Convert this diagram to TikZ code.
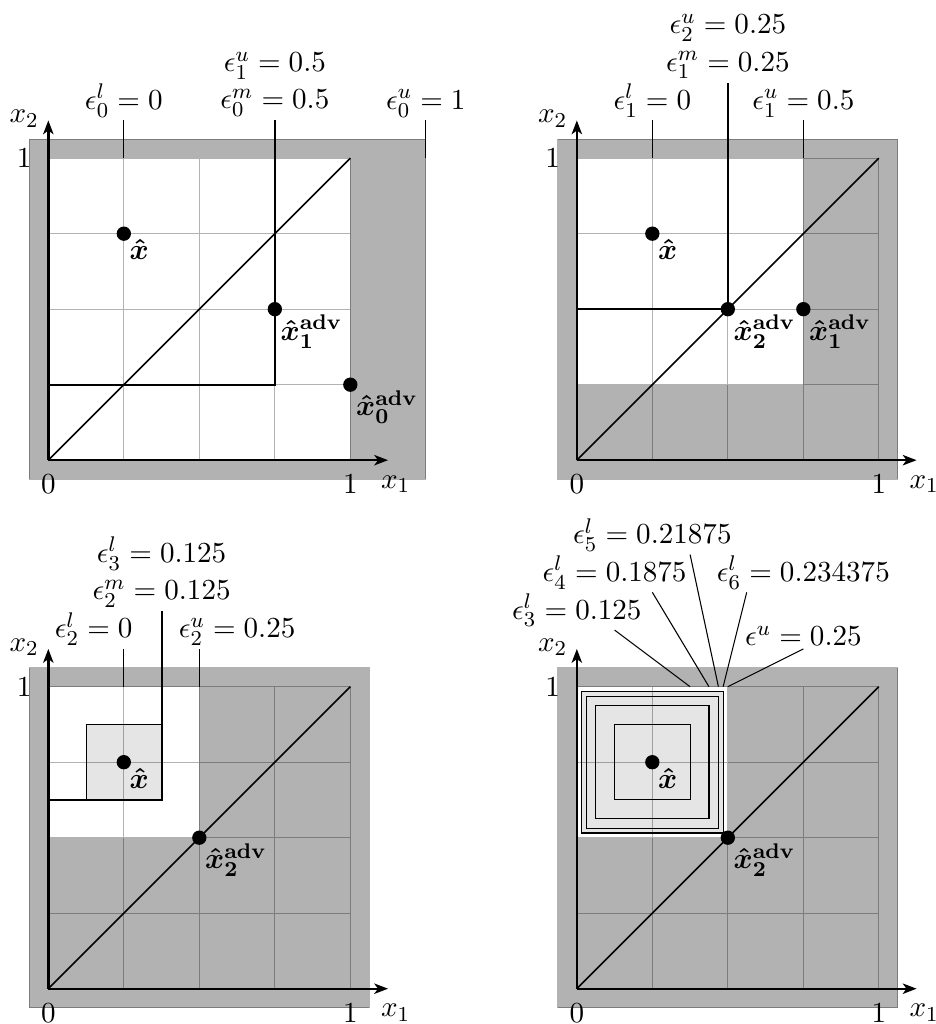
\documentclass[11pt,tikz,border=0pt]{standalone}
\usepackage{amsmath}
\usepackage{bm}
\usetikzlibrary{arrows.meta}
\begin{document}
\begin{tikzpicture}[x=4cm,y=4cm,>={Stealth[length=5.2pt,width=3.9pt,inset=1.4pt]},
  region/.style={fill=black!30},
  gridline/.style={draw=black,draw opacity=0.3,thin},
  ball/.style={fill=black!10,draw=black,thin},
  axis/.style={line width=0.9pt,->},
  eps/.style={above,inner sep=1pt},
  pt/.style={below right,inner sep=2pt}]
\useasboundingbox (-0.64cm,-0.4675cm) rectangle (11.757cm,13.095cm);

\begin{scope}[shift={(0,1.75)}]
\fill[region] (-0.0625,-0.0625) rectangle (1.25,1.0625);
\fill[white] (0,0) rectangle (1,1);
\draw[gridline] (0,0) grid[step=0.25] (1.001,1.001);
\draw[gridline] (-0.0625,-0.0625) rectangle (1.25,1.0625);
\draw[thin] (0.25,1) -- (0.25,1.125) node[eps] (lA) {$\epsilon^l_0=0$};
\draw[thin] (1.25,1) -- (1.25,1.125) node[eps] (uA) {$\epsilon^u_0=1$};
\draw[thick] (0,0.25) -- (0.75,0.25) -- (0.75,1.125) node[eps] (mA) {$\epsilon^m_0=0.5$};
\node[eps] (uA1) at (0.75,1.25) {$\epsilon^u_1=0.5$};
\draw[semithick] (0,0) -- (1,1);
\draw[axis] (0,0) -- (1.125,0);
\draw[axis] (0,0) -- (0,1.125);
\node (zeroA) at (0,-0.08) {$0$};
\node (oneA) at (1,-0.08) {$1$};
\node (topA) at (-0.08,1) {$1$};
\node (xoneA) at (1.15,-0.08) {$x_1$};
\node (xtwoA) at (-0.08,1.13) {$x_2$};
\fill (0.25,0.75) circle (2.7pt) node[pt] (xhA) {$\bm{\hat{x}}$};
\fill (0.75,0.5) circle (2.7pt) node[pt] (advA1) {$\bm{\hat{x}}^{\mathbf{adv}}_{\mathbf{1}}$};
\fill (1,0.25) circle (2.7pt) node[pt] (advA0) {$\bm{\hat{x}}^{\mathbf{adv}}_{\mathbf{0}}$};
\end{scope}

\begin{scope}[shift={(1.75,1.75)}]
\fill[region] (-0.0625,-0.0625) rectangle (1.0625,1.0625);
\fill[white] (0,0.25) rectangle (0.75,1);
\draw[gridline] (0,0) grid[step=0.25] (1.001,1.001);
\draw[gridline] (-0.0625,-0.0625) rectangle (1.0625,1.0625);
\draw[thin] (0.25,1) -- (0.25,1.125) node[eps] (lB) {$\epsilon^l_1=0$};
\draw[thin] (0.75,1) -- (0.75,1.125) node[eps] (uB) {$\epsilon^u_1=0.5$};
\draw[thick] (0,0.5) -- (0.5,0.5) -- (0.5,1.25) node[eps] (mB) {$\epsilon^m_1=0.25$};
\node[eps] (uB2) at (0.5,1.375) {$\epsilon^u_2=0.25$};
\draw[semithick] (0,0) -- (1,1);
\draw[axis] (0,0) -- (1.125,0);
\draw[axis] (0,0) -- (0,1.125);
\node (zeroB) at (0,-0.08) {$0$};
\node (oneB) at (1,-0.08) {$1$};
\node (topB) at (-0.08,1) {$1$};
\node (xoneB) at (1.15,-0.08) {$x_1$};
\node (xtwoB) at (-0.08,1.13) {$x_2$};
\fill (0.25,0.75) circle (2.7pt) node[pt] (xhB) {$\bm{\hat{x}}$};
\fill (0.5,0.5) circle (2.7pt) node[pt] (advB2) {$\bm{\hat{x}}^{\mathbf{adv}}_{\mathbf{2}}$};
\fill (0.75,0.5) circle (2.7pt) node[pt] (advB1) {$\bm{\hat{x}}^{\mathbf{adv}}_{\mathbf{1}}$};
\end{scope}

\begin{scope}
\fill[region] (-0.0625,-0.0625) rectangle (1.0625,1.0625);
\fill[white] (0,0.5) rectangle (0.5,1);
\fill[ball] (0.125,0.625) rectangle (0.375,0.875);
\draw[gridline] (0,0) grid[step=0.25] (1.001,1.001);
\draw[gridline] (-0.0625,-0.0625) rectangle (1.0625,1.0625);
\draw[thin] (0.25,1) -- (0.25,1.125);
\node[eps] (lC) at (0.15,1.125) {$\epsilon^l_2=0$};
\draw[thin] (0.5,1) -- (0.5,1.125);
\node[eps] (uC) at (0.625,1.125) {$\epsilon^u_2=0.25$};
\draw[thick] (0,0.625) -- (0.375,0.625) -- (0.375,1.25) node[eps] (mC) {$\epsilon^m_2=0.125$};
\node[eps] (lC3) at (0.375,1.375) {$\epsilon^l_3=0.125$};
\draw[semithick] (0,0) -- (1,1);
\draw[axis] (0,0) -- (1.125,0);
\draw[axis] (0,0) -- (0,1.125);
\node (zeroC) at (0,-0.08) {$0$};
\node (oneC) at (1,-0.08) {$1$};
\node (topC) at (-0.08,1) {$1$};
\node (xoneC) at (1.15,-0.08) {$x_1$};
\node (xtwoC) at (-0.08,1.13) {$x_2$};
\fill (0.25,0.75) circle (2.7pt) node[pt] (xhC) {$\bm{\hat{x}}$};
\fill (0.5,0.5) circle (2.7pt) node[pt] (advC2) {$\bm{\hat{x}}^{\mathbf{adv}}_{\mathbf{2}}$};
\end{scope}

\begin{scope}[shift={(1.75,0)}]
\fill[region] (-0.0625,-0.0625) rectangle (1.0625,1.0625);
\fill[white] (0,0.5) rectangle (0.5,1);
\fill[black!10] (0.015625,0.515625) rectangle (0.484375,0.984375);
\draw[gridline] (0,0) grid[step=0.25] (1.001,1.001);
\draw[gridline] (-0.0625,-0.0625) rectangle (1.0625,1.0625);
\foreach \e in {0.125,0.1875,0.21875,0.234375}
  \draw[thin] (0.25-\e,0.75-\e) rectangle (0.25+\e,0.75+\e);
\coordinate (s3) at (0.375,1);
\coordinate (s4) at (0.4375,1);
\coordinate (s5) at (0.46875,1);
\coordinate (s6) at (0.484375,1);
\coordinate (su) at (0.5,1);
\coordinate (e3) at (0.125,1.1875);
\coordinate (e4) at (0.25,1.3125);
\coordinate (e5) at (0.375,1.4375);
\coordinate (e6) at (0.5625,1.3125);
\coordinate (eu) at (0.75,1.125);
\draw[thin] (s3) -- (e3);
\draw[thin] (s4) -- (e4);
\draw[thin] (s5) -- (e5);
\draw[thin] (s6) -- (e6);
\draw[thin] (su) -- (eu);
\node[eps] (lD3) at (0,1.1875) {$\epsilon^l_3=0.125$};
\node[eps] (lD4) at (0.125,1.3125) {$\epsilon^l_4=0.1875$};
\node[eps] (lD5) at (0.25,1.4375) {$\epsilon^l_5=0.21875$};
\node[eps] (lD6) at (0.75,1.3125) {$\epsilon^l_6=0.234375$};
\node[eps] (uD) at (0.75,1.125) {$\epsilon^u=0.25$};
\draw[semithick] (0,0) -- (1,1);
\draw[axis] (0,0) -- (1.125,0);
\draw[axis] (0,0) -- (0,1.125);
\node (zeroD) at (0,-0.08) {$0$};
\node (oneD) at (1,-0.08) {$1$};
\node (topD) at (-0.08,1) {$1$};
\node (xoneD) at (1.15,-0.08) {$x_1$};
\node (xtwoD) at (-0.08,1.13) {$x_2$};
\fill (0.25,0.75) circle (2.7pt) node[pt] (xhD) {$\bm{\hat{x}}$};
\fill (0.5,0.5) circle (2.7pt) node[pt] (advD2) {$\bm{\hat{x}}^{\mathbf{adv}}_{\mathbf{2}}$};
\end{scope}
\end{tikzpicture}
\end{document}
